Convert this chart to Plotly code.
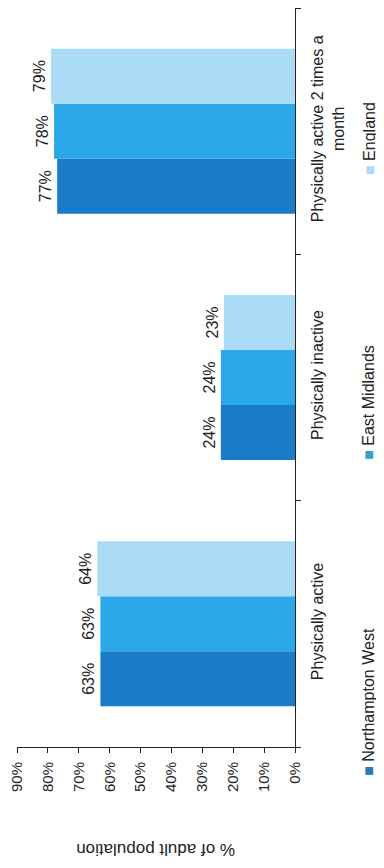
import plotly.graph_objects as go

categories = ["Physically active", "Physically inactive", "Physically active 2 times a<br>month"]
series_names = ["Northampton West", "East Midlands", "England"]
northampton_west = [63, 24, 77]
east_midlands = [63, 24, 78]
england = [64, 23, 79]
tick_values = [0, 10, 20, 30, 40, 50, 60, 70, 80, 90]
tick_labels = [f"{v}%" for v in tick_values]
axis_title = "% of adult population"

colors = ["#1a7cc8", "#2aa8e8", "#aadcf5"]
legend_marker_colors = ["#2a78b8", "#3a9ec8", "#aadcf5"]
font_family = "Liberation Sans, Arial, sans-serif"

fig = go.Figure()
for name, vals, col in zip(series_names, [northampton_west, east_midlands, england], colors):
    fig.add_trace(go.Bar(
        name=name, y=categories, x=vals, orientation="h",
        marker=dict(color=col, line=dict(width=0)),
        text=[f"{v}%" for v in vals], textposition="outside", textangle=-90,
        textfont=dict(size=16, color="#222", family=font_family),
        cliponaxis=False, constraintext="none",
    ))

# page body has an 8px margin, so the figure is sized to fit the 384x868 window
fig.update_layout(
    width=376, height=852,
    margin=dict(l=9, r=89, t=0, b=113),
    barmode="group", bargap=0.33, bargroupgap=0,
    showlegend=False,
    plot_bgcolor="white", paper_bgcolor="white",
    font=dict(family=font_family, color="#222"),
    xaxis=dict(range=[90, 0], tickvals=tick_values, ticktext=tick_labels,
               tickangle=-90, ticks="outside", ticklen=5, tickcolor="#222",
               ticklabeloverflow="allow", ticklabelstandoff=3,
               showline=True, linecolor="#222", linewidth=1,
               showgrid=False, zeroline=False, tickfont=dict(size=15)),
    yaxis=dict(side="right", tickangle=-90, ticks="outside", ticklen=5,
               tickson="boundaries", tickcolor="#222", range=[-0.5, 2.5],
               ticklabelstandoff=8,
               showline=True, linecolor="#222", linewidth=1,
               showgrid=False, zeroline=False, tickfont=dict(size=16)),
)

# axis title (upside down, as in the rotated reference)
fig.add_annotation(text=axis_title, xref="paper", yref="paper", x=0.5, y=-0.138,
                   xanchor="center", yanchor="middle", textangle=180,
                   showarrow=False, font=dict(size=17, color="#222"))

# legend built as rotated annotations (centre-anchored)
legend_y = [0.061, 0.467, 0.824]
for name, col, ly in zip(series_names, legend_marker_colors, legend_y):
    fig.add_annotation(text=f"<span style='color:{col}'>■</span> {name}",
                       xref="paper", yref="paper", x=1.266, y=ly,
                       xanchor="center", yanchor="middle", textangle=-90,
                       showarrow=False, font=dict(size=16, color="#222"))

fig.write_html("out.html")
